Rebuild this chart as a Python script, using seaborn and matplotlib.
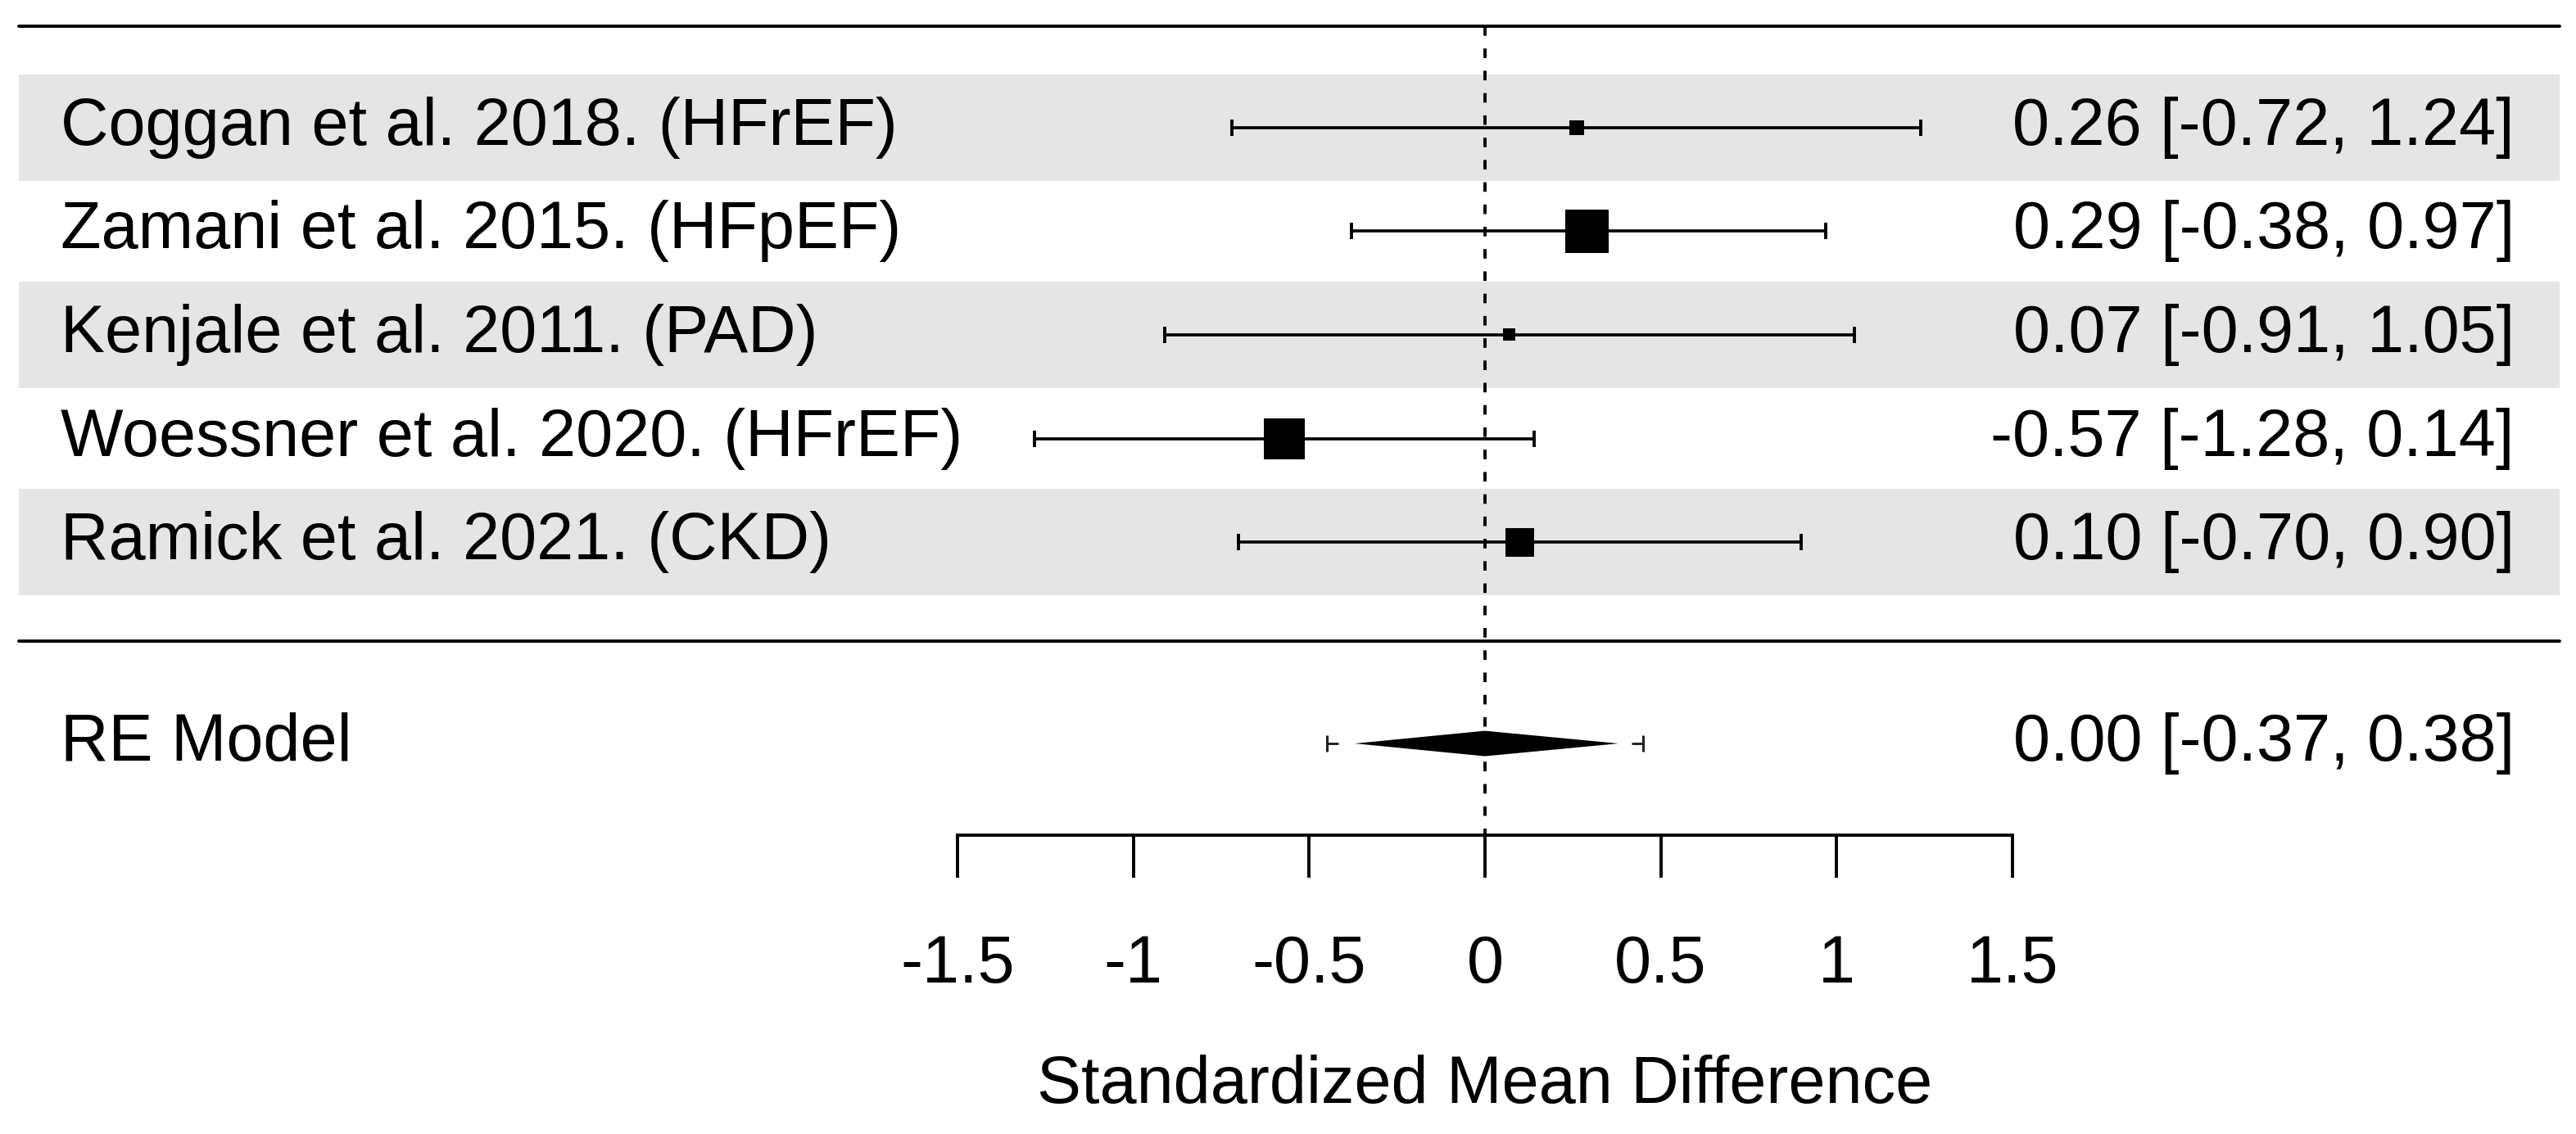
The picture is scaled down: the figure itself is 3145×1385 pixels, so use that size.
import numpy as np
import pandas as pd
import seaborn as sns
import matplotlib.pyplot as plt
import matplotlib.transforms as mtransforms

# study data
studies = ['Coggan et al. 2018. (HFrEF)', 'Zamani et al. 2015. (HFpEF)',
           'Kenjale et al. 2011. (PAD)', 'Woessner et al. 2020. (HFrEF)',
           'Ramick et al. 2021. (CKD)']
smd = [0.26, 0.29, 0.07, -0.57, 0.10]
ci_lower = [-0.72, -0.38, -0.91, -1.28, -0.70]
ci_upper = [1.24, 0.97, 1.05, 0.14, 0.90]
rel_weight = [18, 53, 15, 50, 35]   # relative study weight (box size)

# pooled random-effects estimate
re_label = 'RE Model'
re_est = 0.00
re_lower = -0.37
re_upper = 0.38
pi_lower = -0.45
pi_upper = 0.45

xticks = [-1.5, -1, -0.5, 0, 0.5, 1, 1.5]
xtick_labels = ['-1.5', '-1', '-0.5', '0', '0.5', '1', '1.5']
xlabel = 'Standardized Mean Difference'

sns.set_theme(style='white')
plt.rcParams['font.family'] = ['Liberation Sans', 'DejaVu Sans']
plt.rcParams['text.color'] = 'black'
plt.rcParams['axes.labelcolor'] = 'black'
plt.rcParams['xtick.color'] = 'black'

FS = 58.3
LW = 2.8

df = pd.DataFrame({'study': studies, 'smd': smd, 'lo': ci_lower, 'hi': ci_upper,
                   'w': rel_weight})
df['row'] = np.arange(len(df), 0, -1)
# box side in points proportional to weight, area passed to scatter
df['area'] = (df['w'] / df['w'].max() * 53 * 0.72) ** 2

fig = plt.figure(figsize=(31.45, 13.85), dpi=100)
ax = fig.add_axes([0, 0, 1, 1])
ax.set_xlim(-4.223, 3.103)
ax.set_ylim(-4.715, 6.233)

re_row = -0.945
axis_y = -1.83
xmin_f, xmax_f = 23 / 3145, 3125 / 3145

# alternating row shading
for r in df['row']:
    if r % 2 == 1:
        ax.axhspan(r - 0.515, r + 0.515, xmin=xmin_f, xmax=xmax_f,
                   color='#e5e5e5', lw=0, zorder=0)

ax.axhline(5.98, xmin=xmin_f, xmax=xmax_f, color='black', lw=LW, zorder=1)
ax.axhline(0.0435, xmin=xmin_f, xmax=xmax_f, color='black', lw=LW, zorder=1)

# reference line
ax.plot([0, 0], [5.98, axis_y], color='black', lw=LW,
        linestyle=(0, (3, 4)), zorder=1)

# study CIs and boxes
ax.errorbar(df['smd'], df['row'],
            xerr=[df['smd'] - df['lo'], df['hi'] - df['smd']],
            fmt='none', ecolor='black', elinewidth=LW * 0.95,
            capsize=7.2, capthick=LW, zorder=2)
sns.scatterplot(data=df, x='smd', y='row', size='area',
                sizes=(df['area'].min(), df['area'].max()),
                size_norm=(df['area'].min(), df['area'].max()),
                marker='s', color='black', linewidth=0, legend=False,
                ax=ax, zorder=3)

# prediction interval (dotted, mostly hidden behind diamond)
for end in (pi_lower, pi_upper):
    ax.plot([end, re_est], [re_row, re_row], color='#222222', lw=LW * 0.75,
            linestyle=(0, (4.8, 30)), zorder=2)
pi_eb = ax.errorbar([re_est], [re_row],
                    xerr=[[re_est - pi_lower], [pi_upper - re_est]],
                    fmt='none', ecolor='#222222', capsize=7.2,
                    capthick=LW * 0.8, zorder=2)
pi_eb.lines[2][0].set_visible(False)

# summary diamond
h = 0.1225
ax.fill([re_lower, re_est, re_upper, re_est],
        [re_row, re_row + h, re_row, re_row - h],
        color='black', lw=0, zorder=4)

# text columns
txt_tr = mtransforms.offset_copy(ax.transData, fig=fig, y=-21, units='dots')
for _, r in df.iterrows():
    ax.text(-4.051, r['row'], r['study'], ha='left', va='baseline',
            fontsize=FS, transform=txt_tr)
    ax.text(2.928, r['row'], f"{r['smd']:.2f} [{r['lo']:.2f}, {r['hi']:.2f}]",
            ha='right', va='baseline', fontsize=FS, transform=txt_tr)
ax.text(-4.051, re_row, re_label, ha='left', va='baseline', fontsize=FS,
        transform=txt_tr)
ax.text(2.928, re_row, f'{re_est:.2f} [{re_lower:.2f}, {re_upper:.2f}]',
        ha='right', va='baseline', fontsize=FS, transform=txt_tr)

# x axis
for s in ['left', 'right', 'top']:
    ax.spines[s].set_visible(False)
ax.spines['bottom'].set_position(('data', axis_y))
ax.spines['bottom'].set_bounds(-1.5, 1.5)
ax.spines['bottom'].set_linewidth(LW)
ax.spines['bottom'].set_color('black')
ax.set_yticks([])
ax.set_xticks(xticks)
ax.set_xticklabels(xtick_labels)
ax.tick_params(axis='x', direction='out', length=37.4, width=LW, pad=50,
               labelsize=FS, colors='black', bottom=True)
ax.set_xlabel(xlabel, fontsize=FS)
ax.xaxis.set_label_coords(0.5765, 0.0274)
ax.xaxis.label.set_va('baseline')
ax.set_ylabel('')

fig.savefig('out.png', dpi=100, facecolor='white')
